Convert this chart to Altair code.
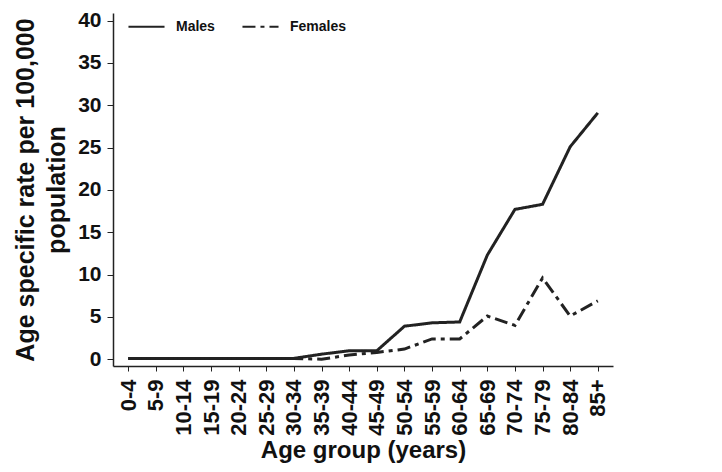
import altair as alt
import pandas as pd

ages = ["0-4", "5-9", "10-14", "15-19", "20-24", "25-29", "30-34", "35-39", "40-44",
        "45-49", "50-54", "55-59", "60-64", "65-69", "70-74", "75-79", "80-84", "85+"]
males = [0.1, 0.1, 0.1, 0.1, 0.1, 0.1, 0.1, 0.6, 1.0, 1.0, 3.9, 4.3, 4.4, 12.3, 17.7, 18.3, 25.1, 29.1]
females = [0.1, 0.1, 0.1, 0.1, 0.1, 0.1, 0.1, 0.0, 0.5, 0.8, 1.2, 2.4, 2.4, 5.1, 4.0, 9.6, 5.1, 6.9]

rows = []
for a, m, f in zip(ages, males, females):
    rows.append({"age": a, "sex": "Males", "rate": m})
    rows.append({"age": a, "sex": "Females", "rate": f})
df = pd.DataFrame(rows)

FONT = "Liberation Sans"

chart = alt.Chart(df).mark_line(strokeWidth=3, color="#222222").encode(
    x=alt.X("age:N", sort=ages,
            scale=alt.Scale(type="point", padding=0.55),
            axis=alt.Axis(title="Age group (years)", labelAngle=-90, labelFontSize=22,
                          labelFontWeight="bold", titleFontSize=24, titleFontWeight="bold",
                          labelFont=FONT, titleFont=FONT, labelColor="#111", titleColor="#111",
                          domainColor="#222", domainWidth=1.5, tickColor="#222", tickSize=5,
                          labelPadding=8, titlePadding=3, labelAlign="right",
                          labelBaseline="middle")),
    y=alt.Y("rate:Q",
            scale=alt.Scale(domain=[-0.8, 40.9], nice=False, zero=False),
            axis=alt.Axis(title=["Age specific rate per 100,000", "population"],
                          values=[0, 5, 10, 15, 20, 25, 30, 35, 40], grid=False,
                          labelFontSize=21, labelFontWeight="bold", titleFontSize=25,
                          titleFontWeight="bold", labelFont=FONT, titleFont=FONT,
                          labelColor="#111", titleColor="#111", titleLineHeight=31,
                          domainColor="#222", domainWidth=1.5, tickColor="#222", tickSize=6,
                          labelPadding=6, titlePadding=8)),
    strokeDash=alt.StrokeDash("sex:N",
                              scale=alt.Scale(domain=["Males", "Females"],
                                              range=[[1, 0], [13, 5, 4, 5]]),
                              legend=alt.Legend(title=None, orient="none", direction="horizontal",
                                                legendX=14, legendY=-6, symbolType="stroke",
                                                symbolSize=1300, symbolStrokeWidth=2,
                                                symbolStrokeColor="#222",
                                                labelFontSize=14, labelFontWeight="bold",
                                                labelFont=FONT, labelColor="#111",
                                                columnPadding=23, labelOffset=10)),
).properties(
    width=500, height=353,
    autosize=alt.AutoSizeParams(type="none"),
    padding={"left": 105, "top": 5, "right": 101, "bottom": 98},
).configure_view(stroke=None)

chart.save("out.html", embed_options={"renderer": "svg", "actions": False})
